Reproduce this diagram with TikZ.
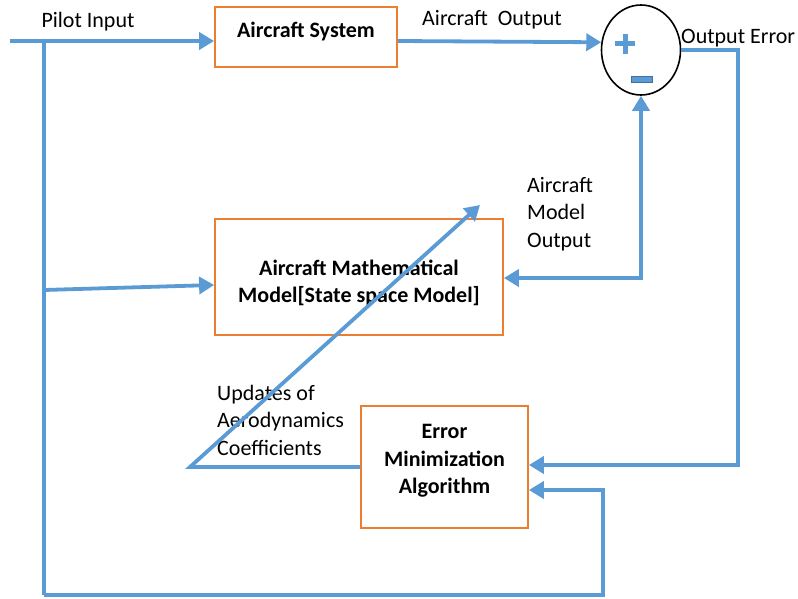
\documentclass[tikz,border=0pt]{standalone}
\usepackage{fontspec}
\setmainfont{Carlito}
\usepackage{xcolor}
\usetikzlibrary{positioning,arrows.meta,shapes.geometric}
\definecolor{lineblue}{HTML}{5B9BD5}
\definecolor{boxorange}{HTML}{ED7D31}
\definecolor{minusblue}{HTML}{41719C}

\begin{document}
\begin{tikzpicture}[x=1pt, y=-1pt, font=\fontsize{22}{27.5}\selectfont,
    tip/.tip={Triangle[length=15pt, width=17pt]},
    flow/.style={draw=lineblue, line width=3.8pt, -tip},
    block/.style={draw=boxorange, line width=1.8pt, font=\fontsize{22}{27.5}\selectfont\bfseries, align=center},
    boxtext/.style={font=\fontsize{22}{27.5}\selectfont\bfseries, align=center},
    lbl/.style={inner sep=0pt, align=left}]
    \useasboundingbox (0,0) rectangle (798,599);

    \node[block, minimum width=182pt, minimum height=60pt,
          label={[boxtext, anchor=north, yshift=-12pt]north:Aircraft System}]
          (sys) at (306,37) {};
    \node[block, minimum width=288pt, minimum height=116pt,
          label={[boxtext, anchor=center, yshift=-6pt]center:{Aircraft Mathematical\\Model[State space Model]}}]
          (math) at (359,277) {};
    \node[block, minimum width=167pt, minimum height=122pt, text depth=16pt] (err) at (444.5,467)
          {Error\\Minimization\\Algorithm};
    \node[ellipse, draw=black, line width=1.6pt, minimum width=79pt, minimum height=90pt] (sum) at (641,50) {};

    % signs in the summing junction
    \draw[lineblue, line width=5pt] (615,44) -- (635,44) (625,34) -- (625,54);
    \draw[minusblue, fill=lineblue, line width=1pt] (631,77) rectangle (652,83);

    \node[lbl] (pilot) at (88,22) {Pilot Input};
    \node[lbl] (acout) at (492,20) {Aircraft\ \ Output};
    \node[lbl, anchor=west] (operr) at (681,38) {Output Error};
    \node[lbl, anchor=north west] (modout) at (527,177) {Aircraft\\Model\\Output};
    \node[lbl, anchor=north west] (upd) at (217,385) {Updates of\\Aerodynamics\\Coefficients};

    \coordinate (pin) at (10,41);
    \coordinate (split) at (44,41);
    \coordinate (mbr) at (44,290);
    \coordinate (bl) at (44,595);
    \coordinate (br) at (603,490);
    \coordinate (eright) at (738,465);
    \coordinate (mo) at (641,278);
    \coordinate (uk) at (190,467);
    \coordinate (utip) at (480,205);

    \draw[flow] (pin) -- (pin -| sys.west);
    \draw[flow] (sys.east |- pin) -- (sum.169);
    \draw[flow] (sum.east) -| (eright) -- (err.east |- eright);
    \draw[flow, tip-tip] (math.east |- mo) -- (mo) -- (sum.south);
    \draw[flow, -] (split) -- (bl);
    \draw[flow] (bl) -| (br) -- (err.east |- br);
    \draw[flow] (mbr) -- ([yshift=-8pt]math.west);
    \draw[flow] (err.west) -- (uk) -- (utip);
\end{tikzpicture}
\end{document}
